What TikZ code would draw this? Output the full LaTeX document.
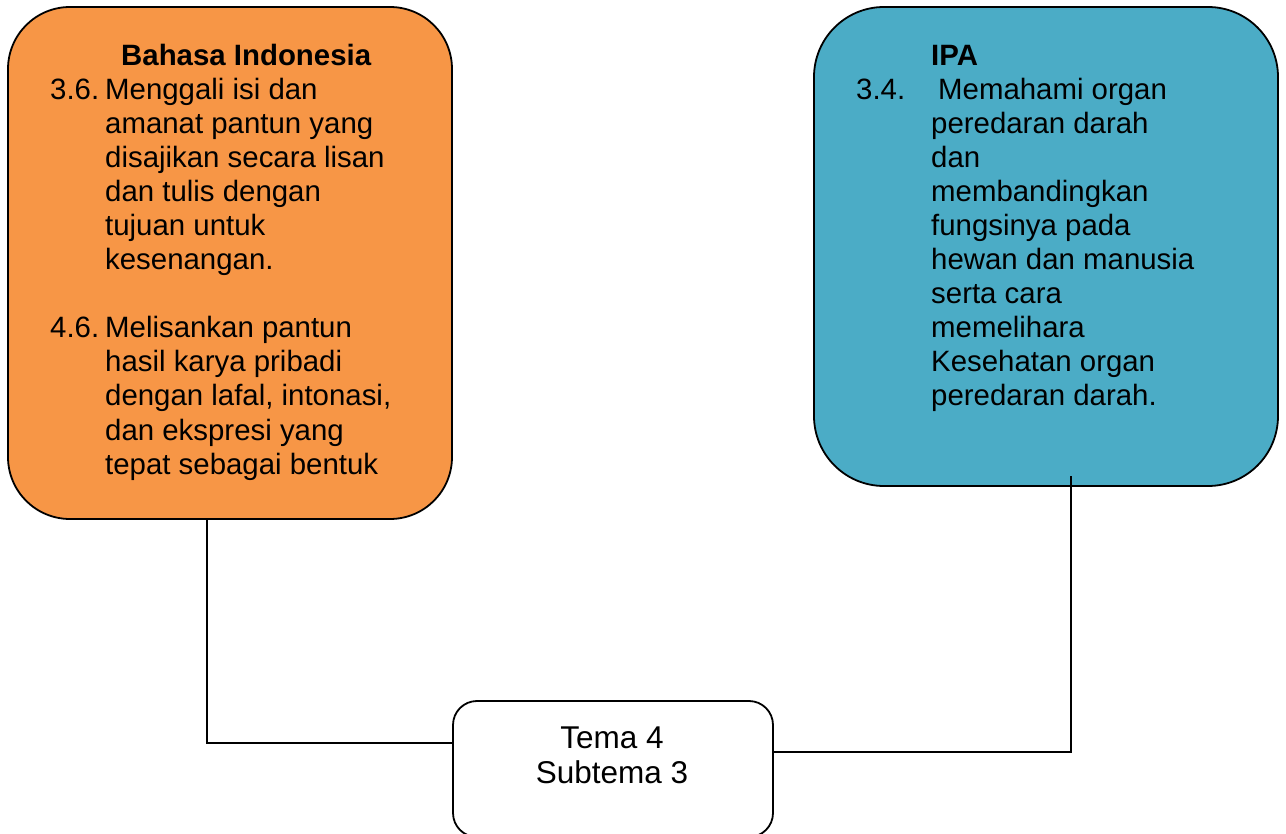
\documentclass[tikz,border=0pt]{standalone}
\usepackage{fontspec}
\setmainfont{Liberation Sans}
\definecolor{boxorange}{HTML}{F79646}
\definecolor{boxblue}{HTML}{4BACC6}
\tikzset{
  subjbox/.style={draw=black, line width=1.8pt, rectangle, inner sep=0pt},
  txt/.style={anchor=base west, inner sep=0pt, font=\fontsize{29.4}{34}\selectfont},
  ttl/.style={txt, font=\fontsize{29.4}{34}\selectfont\bfseries},
  temtxt/.style={anchor=base, inner sep=0pt, font=\fontsize{31.5}{35}\selectfont},
  link/.style={draw=black, line width=1.4pt}
}
\begin{document}
\begin{tikzpicture}[x=1pt,y=-1pt]
\useasboundingbox (0,0) rectangle (1286,834);
\clip (0,0) rectangle (1286,834);
\fill[white] (0,0) rectangle (1286,834);

% boxes
\node[subjbox, fill=boxorange, rounded corners=62pt, minimum width=444pt, minimum height=512pt] (bi) at (230,263) {};
\node[subjbox, fill=boxblue, rounded corners=70pt, minimum width=464pt, minimum height=479pt] (ipa) at (1046,246.5) {};
\node[subjbox, fill=white, rounded corners=24pt, minimum width=320pt, minimum height=136pt] (tema) at (613,769) {};

% connectors
\coordinate (lb) at (207,519);
\coordinate (rb) at (1071,476);
\draw[link] (lb) |- ([yshift=26pt]tema.west);
\draw[link] (rb) |- ([yshift=17pt]tema.east);

% Bahasa Indonesia text
\node[ttl] (bititle) at (121,66) {Bahasa Indonesia};
\node[txt] (n36) at (50,100) {3.6.};
\foreach \t [count=\i from 0] in {Menggali isi dan, amanat pantun yang, disajikan secara lisan, dan tulis dengan, tujuan untuk, kesenangan.}
  \node[txt] (ba\i) at (105,100+34*\i) {\t};
\node[txt] (n46) at (50,338) {4.6.};
\foreach \t [count=\i from 0] in {Melisankan pantun, hasil karya pribadi, {dengan lafal, intonasi,}, dan ekspresi yang, tepat sebagai bentuk}
  \node[txt] (bb\i) at (105,338+34*\i) {\t};

% IPA text
\node[ttl] (ipatitle) at (931,66) {IPA};
\node[txt] (n34) at (856,100) {3.4.};
\node[txt] (ia0) at (938,100) {Memahami organ};
\foreach \t [count=\i from 1] in {peredaran darah, dan, membandingkan, fungsinya pada, hewan dan manusia, serta cara, memelihara, Kesehatan organ, peredaran darah.}
  \node[txt] (ia\i) at (931,100+34*\i) {\t};

% Tema text
\node[temtxt] (t1) at (612,748) {Tema 4};
\node[temtxt] (t2) at (612,783) {Subtema 3};
\end{tikzpicture}
\end{document}
